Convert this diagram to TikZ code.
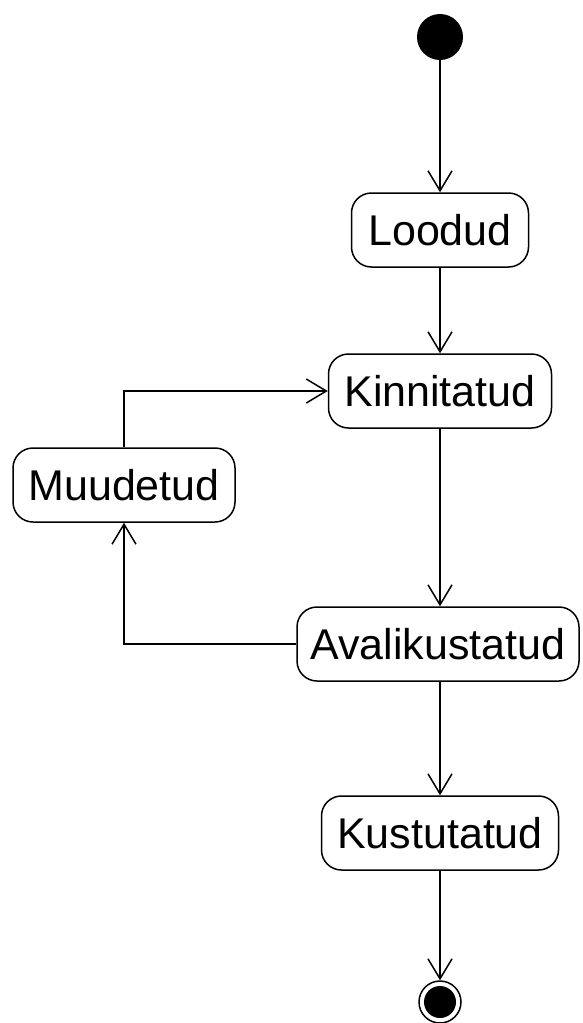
\documentclass[tikz,border=0pt]{standalone}
\usepackage{fontspec}
\setmainfont{Liberation Sans}
\usetikzlibrary{arrows.meta}
\begin{document}
\begin{tikzpicture}[x=1pt,y=-1pt,
  state/.style={draw, line width=1.5pt, rounded corners=20pt, inner sep=0pt,
    minimum height=74pt, font=\fontsize{43}{50}\selectfont},
  flow/.style={line width=1.5pt, -{Straight Barb[length=20pt,width=24pt,line width=1.5pt]}}]
\useasboundingbox (0,0) rectangle (582,1023);
\node[circle, fill=black, minimum size=46pt, inner sep=0pt] (start) at (440,37) {};
\node[state, minimum width=177pt] (loodud) at (440,230) {Loodud};
\node[state, minimum width=223pt] (kinn) at (440,391) {Kinnitatud};
\node[state, minimum width=222pt] (muud) at (124,485) {Muudetud};
\node[state, minimum width=282pt] (aval) at (438,644) {Avalikustatud};
\node[state, minimum width=237pt] (kust) at (440,833) {Kustutatud};
\node[circle, draw, line width=1.5pt, minimum size=42pt, inner sep=0pt] (end) at (440,1002) {};
\fill (end.center) circle (16pt);
\draw[flow] (start) -- (loodud);
\draw[flow] (loodud) -- (kinn);
\draw[flow] (kinn.south) -- (kinn.south |- aval.north);
\draw[flow] (aval.south -| kust.north) -- (kust.north);
\draw[flow] (kust) -- (end);
\draw[flow] (aval.west) -| (muud.south);
\draw[flow] (muud.north) |- (kinn.west);
\end{tikzpicture}
\end{document}
